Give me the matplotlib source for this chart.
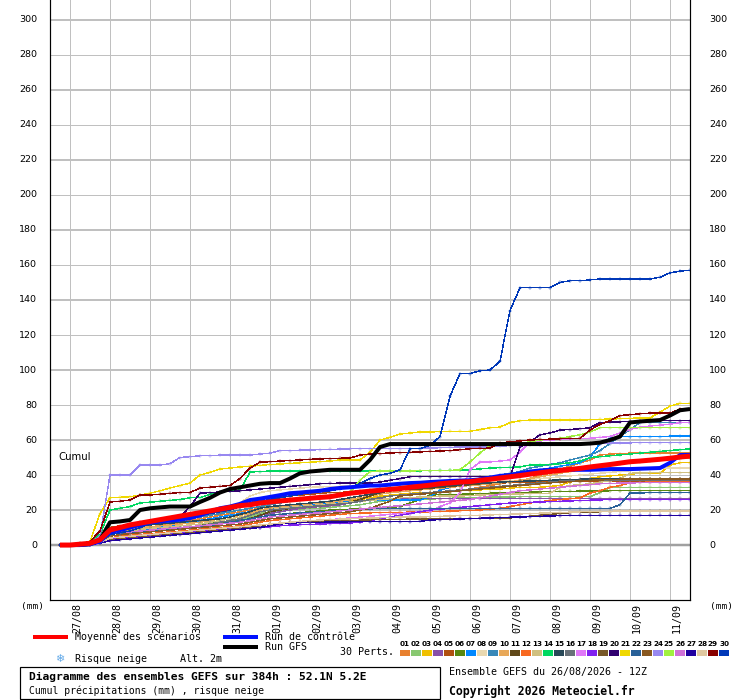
import numpy as np
import matplotlib.pyplot as plt
from matplotlib.lines import Line2D
from matplotlib.patches import Rectangle
import matplotlib.transforms as mtransforms

# ====================================
# Data (cumulative precipitation, mm, every 6h from +6h to +384h)
# ====================================
hours = np.arange(6, 385, 6)
date_labels = ['27/08', '28/08', '29/08', '30/08', '31/08', '01/09', '02/09', '03/09',
               '04/09', '05/09', '06/09', '07/09', '08/09', '09/09', '10/09', '11/09']
date_hours = np.arange(12, 385, 24)
y_ticks = np.arange(0, 301, 20)

mean = [0,0,0.5,1, 3,8.6,10,11.5, 12.5,13.5,14.5,15.5, 16.5,17.5,18.5,19.5,
        20.5,21.5,22.5,23, 24,24.6,25.2,25.7, 26.2,26.7,27.2,27.6, 28.6,29.6,30.2,30.8,
        31.3,31.8,32.3,33, 33.6,34.2,35,35.5, 36,36.2,37,37.6, 38.3,39,39.7,40.5,
        41.3,42,42.6,43.2, 43.8,44.6,45.3,46, 46.8,47.6,48,48.5, 49,49.6,50.3,50.8]
ctrl = [0,0,0,0.5, 2,7.4,8.5,10, 11.5,13,13.5,14, 14.5,15.4,17,19,
        21,22,23.5,25.7, 26.5,27.5,28.5,29.6, 30,30.5,31,32, 32.6,33,33.5,34,
        34,34.5,35,35.4, 35.6,36,36.3,36.6, 36.8,37,37.5,38.5, 39.5,40,41,42,
        42.6,43,43,43, 43,43,43.2,43.4, 43.4,43.4,43.6,43.8, 44,47,51.4,51.5]
gfs = [0,0,0,0.5, 3,13,13.5,14.3, 20,21,21.5,22, 22,22,24.6,27,
       30,32,33,34, 35,35.4,35.4,38, 41,42,42.5,43, 43,43,43,48.6,
       56,57.7,57.7,57.7, 57.7,57.7,57.7,57.7, 57.7,57.7,57.7,57.7, 57.7,57.7,57.7,57.7,
       57.7,57.7,57.7,57.7, 57.7,58,58.5,60, 62,70,70.6,71, 71.4,74,77,77.7]

p01 = [0,0,0.3,1, 2,6,7,8, 9,10,11,12, 13,14,15,16, 17,18,19,20, 21,22,22.5,23,
       23.5,24,24.5,25, 25.5,26,26.5,27, 27.5,28,28.5,29, 29.5,30,30.5,31, 31.5,32,33,34,
       35,36,37,38, 40,41,43.4,45, 47,48.6,51.4,52, 52.3,52.5,52.6,52.6, 52.6,52.6,52.6,52.6]
p02 = [0,0,0.5,1.5, 3,7,8,8.5, 9,9.5,10,10.5, 11,11.5,12,12.5, 13,13.5,14,16, 18,19,19.5,20,
       20.5,21,21,21.5, 22,22.5,23,24, 25,25.5,26,26, 26,26.3,26.5,26.7, 27,27,27.2,27.4,
       27.5,27.5,27.6,27.6, 27.6,27.6,27.6,27.6, 27.6,27.6,30,33, 33,33,33,33, 33,33,33,33]
p03 = [0,0,0.5,1, 3,9,10,11, 12,12.5,13,13.5, 14,15,16,17, 18,19,20,21, 22,22,22.5,23,
       23,23.5,23.5,24, 24,25,26,27, 28,28.5,29,29.5, 30,30,30.5,30.5, 31,31,31.5,32,
       32,32.5,33,33, 33,33.5,34,36, 37,38,39,39.5, 40,40.5,41,41, 41,45.7,47,47]
p04 = [0,0,0.5,1, 2,5,6,6.5, 7,7.5,8,8.5, 9,9.5,10,11, 12,13,14,15, 17,18,19,20,
       21,21.5,22,22.5, 23,24,25,26, 26.2,26.4,26.5,26.5, 26.5,26.5,26.5,26.5, 26.5,26.5,26.5,26.6,
       26.6,26.6,26.6,26.6, 26.6,26.6,26.6,26.7, 26.7,26.7,26.7,26.7, 26.7,26.7,26.7,26.7, 26.7,26.7,26.7,26.7]
p05 = [0,0,0.5,1.5, 3,10,11,12, 13,13.5,14,14.5, 15,15.5,16,17, 18,20,22,24, 26,27,27.5,28,
       28.5,29,29.5,30, 30,30.5,31,31.5, 32,32.5,33,33.5, 34,34,34.5,34.5, 35,35,35.2,35.4,
       35.5,35.6,35.7,35.8, 36,36,36,36.2, 36.2,36.3,36.4,36.5, 36.5,36.5,36.5,36.5, 36.5,36.5,36.5,36.5]
p06 = [0,0,1,2, 4,7,8,8.5, 9,9.5,10,10.5, 11,11.5,12,12.5, 13,13.5,14,15, 16,17,17.5,18,
       18.5,19,19.5,20, 20,20.5,21,21, 21,21.5,22,24, 26,28.6,28.8,29, 29,29.2,29.4,29.6,
       29.8,30,30,30.2, 30.4,30.5,30.6,30.7, 30.8,30.8,30.9,31, 31,31,31,31, 31,31,31,31]
p07 = [0,0,0,0.5, 2,5,6,7, 8,9,10,11, 12,13,14,15, 16,17,18,19, 20,21,21.5,22,
       22.5,23,23.5,24, 24.5,25,25,25.5, 25.5,25.7,25.7,25.7, 25.7,27.7,31.4,33, 35.4,36,37,38,
       39,40,41,42, 43,44,45,46, 47,50,58,61, 62,62,62,62, 62,62.2,62.3,62.3]
p08 = [0,0,0.5,1, 3,8,9,10, 11,12,13,14, 15,16,17,18, 19,21,24,28, 30,31,31.5,32,
       32.5,33,33.2,33.4, 33.6,33.8,34,34.2, 34.4,34.6,34.8,35, 35.2,35.4,35.6,35.8, 36,36,36.2,36.4,
       36.6,36.8,37,37.5, 38,38.5,39,39.5, 40,40.5,41,41.5, 42,42.5,43,43.5, 44,44,44,44]
p09 = [0,0,0.5,1, 3,8,9,10, 11,12,12.5,13, 14,15,16,17, 18,19,20,21, 22,23,24,25,
       26,26.5,27,27.5, 28,29,30,31, 32,32.5,33,33.5, 34,34.5,35,35.5, 36,37,38,39,
       40,41,42,44, 45,46,47,48.6, 50,51.4,54,58, 62,66,70,70, 70,70,70,70]
p10 = [0,0,0.5,1, 2,7,8,9, 10,10.5,11,11.5, 12,12.5,13,14, 15,16,17,18, 20,21,22,22.5,
       23,23.5,24,24.5, 25,26,27,28, 29,30,30.5,31, 31.5,32,32.5,33, 33.5,34,34.5,35,
       35.5,36,37,38, 39,40,41,42, 43,44,45,46, 46.5,47,47.5,48, 48.5,49,49.3,49.5]
p11 = [0,0,0.3,1, 2,5,6,7, 7.5,8,8.5,9, 9.5,10,10.5,11, 12,13,14,15, 17,19,20,21,
       21.5,22,22.5,23, 23.5,24.5,26,28, 30,31,31.5,32, 32,32.5,33,33.5, 34,34.5,35,35.5,
       36,36.2,36.4,36.6, 36.8,37,37,37.2, 37.2,37.3,37.4,37.5, 37.5,37.5,37.5,37.5, 37.5,37.5,37.5,37.5]
p12 = [0,0,0,0.5, 1.5,4,5,5.5, 6,6.5,7,7.5, 8,8.5,9,9.5, 10,10.5,11,12, 13,14,14.5,15,
       15.5,16,16.5,17, 17.5,18,18.2,18.4, 18.5,18.6,18.7,18.8, 18.9,19,19.2,19.4, 19.6,19.8,20,20.5,
       21,22,23,24, 24.7,25.5,26,26.5, 27,29.7,31,33, 34,35.6,35.8,36, 36,36,36,36]
p13 = [0,0,0.5,1, 2,6,7,8, 9,9.5,10,10.5, 11,11.5,12,13, 14,15,16,17, 19,20,21,21.5,
       22,22.5,23,23.5, 24,24.5,25,25.5, 26,26.5,27,27, 27.5,27.5,28,28, 28,28.3,28.6,28.8,
       29,29,29.2,29.4, 29.5,29.6,33,34, 34.5,35,36,36.5, 38,41,41.2,41.3, 41.3,41.3,41.3,41.3]
p14 = [0,0,0.5,2, 6,20,21,22, 24,24.5,25,25.5, 26,27,27,29, 30.5,31,31.4,41.7, 42,42.3,42.3,42.3,
       42.3,42.3,42.3,42.3, 42.3,42.3,42.3,42.3, 42.3,42.3,42.3,42.3, 42.4,42.5,42.6,42.7, 42.8,43,43.5,44,
       44.2,44.4,44.7,45.7, 45.7,46,46.5,47, 48,50,50.5,51, 51.5,52,52.5,53, 53.5,54,54.5,55]
p15 = [0,0,0.5,1, 3,9,10,10.5, 11,11.5,12,12.5, 13,13.5,14,14.5, 15,16,17.5,19, 21,22,22.5,23,
       23.5,24,24.5,25, 26,27,28,29, 30,31,31.5,32, 32.5,33,33.5,34, 34.5,35,35.3,35.6,
       36,36.2,36.4,36.6, 36.8,37,37.2,37.4, 37.6,37.8,38,38, 38,38,38,38, 38,38,38,38]
p16 = [0,0,0.5,1, 2,6,7,7.5, 8,8.5,9,9.5, 10,10.5,11,12, 13,14,15,17, 19,20,20.5,21,
       21.5,22,22.5,23, 23.5,24,25,26, 27,28,28.5,29, 29.5,30,30.5,31, 31.5,32,32.5,33,
       33.5,34,34.5,35, 35.5,36,36.5,37, 37,37,37,37, 37,37,37,37, 37,37,37,37]
p17 = [0,0,0,0, 1,3,4,5, 5.5,6,6.3,6.6, 7,7.3,7.6,8, 8.5,9,9.5,10, 10.2,10.3,12.6,13,
       13.3,13.6,14,14.5, 15,15.5,16,16.5, 17,17.5,18,18.5, 19,19,22,24, 30,43,47.4,47.5,
       48,48.6,53,59, 59.5,60,60.3,60.6, 61,61,61.5,62, 64,66,67.4,68, 68.5,69,70,70]
p18 = [0,0,0,0.3, 1,3,4,4.5, 5,5.5,6,6.5, 7,7.5,8,8.5, 9,9.3,9.5,9.7, 10,10.5,11,11.4,
       11.6,11.8,12,12.2, 12.4,12.6,13,14, 15,16,17,18, 19,20,20.5,21, 21.5,22,22.5,23,
       23.5,24,24.2,24.4, 24.6,24.8,25,25.2, 25.4,25.6,25.8,26, 26,26,26,26, 26,26,26,26]
p19 = [0,0,0,0.5, 1,3,3.5,4, 4.5,5,5.5,6, 6.5,7,7.5,8, 8.5,9,9.5,10, 11,12,12.5,13,
       13.2,13.4,13.6,13.8, 14,14,14.2,14.4, 14.5,14.6,14.7,14.8, 14.9,15,15,15.1, 15.2,15.2,15.3,15.4,
       15.4,15.5,16,16.5, 17,17.5,18,18.5, 18.7,18.9,19,19.1, 19.2,19.3,19.4,19.5, 19.5,19.5,19.5,19.5]
p20 = [0,0,0.5,1, 3,8,9,10, 11,12,13,14, 16,22,29.6,30, 30.3,30.6,31,31.5, 32,32.5,33,33.5,
       34,34.5,35,35.2, 35.4,35.4,35.4,35.4, 36,37,38,39, 39,39,39,39, 39,39,39,39,
       39,39,56,59, 63,64,65.7,66, 66.5,67,70,70.2, 70.4,70.6,70.8,71, 71,71,71,71]
p21 = [0,0,0.5,2, 18,27,27.3,27.6, 28.5,29.6,31,32.6, 34,35.4,40,41.5, 43.4,44,44.6,45, 45.5,46,46.3,46.6,
       47,47.3,47.7,48, 48.6,48.6,48.6,53, 60,61.5,63.4,64, 64.6,64.6,64.8,65, 65,65,66,67,
       67.4,70,71,71.4, 71.4,71.4,71.4,71.4, 71.4,71.6,71.8,72, 72.2,72.4,72.6,72.6, 76,79.4,81,81]
p22 = [0,0,0.5,1, 2,5,6,7, 7.5,8,8.5,9, 9.5,10,10.5,11, 12,13,14,15, 16,17,17.5,18,
       18.3,18.6,19,19.3, 19.6,20,20.3,20.6, 21,21,21,21, 21,21,21,21, 21,21,21,21,
       21,21,21,21, 21,21,21,21, 21,21,21,21, 23,29.7,29.8,29.9, 30,30,30,30]
p23 = [0,0,0.5,1, 2,5,6,6.5, 7,7.5,8,8.5, 9,9.5,10,10.5, 11,11.5,12,13, 14,15,15.5,16,
       16.5,17,17.5,18, 18.5,19,20,21, 23,25,28,28.6, 29,29.5,30,30.5, 31,31.5,32,32.5,
       33,33.5,34,34.5, 35,35.5,36,36.3, 36.6,37,37.2,37.4, 37.6,37.8,37.8,37.8, 37.8,37.8,37.8,37.8]
p24 = [0,0,0,1, 5,40,40,40, 45.7,45.7,45.7,46.5, 50,50.5,51,51, 51.4,51.4,51.4,51.4, 52,52.5,54,54,
       54.2,54.3,54.5,54.6, 54.8,55,55,55, 55,55,55,55, 55.2,55.4,55.6,55.8, 56,56,56,56,
       56.5,56.8,57,57.2, 57.4,57.6,57.8,58, 58,58,58,58.2, 58.3,58.4,58.5,58.5, 58.5,58.5,58.5,58.5]
p25 = [0,0,0,1, 3,8,9,10, 11,12,13,14, 15,16,17,18, 19,20,22,23, 24,25,25.5,26,
       26.5,27,27.5,28, 29,30,37,42, 42.3,42.3,42.3,42.3, 42.5,42.5,42.5,42.6, 43,47.4,52.6,57,
       57.2,57.5,58,59, 60,60.5,61,62, 63,64.6,67,67, 67,67,67,67, 67,67,67,67]
p26 = [0,0,0.5,1, 2,6,7,7.5, 8,8.5,9,9.5, 10,10.5,11,11.5, 12,12.5,13,14, 15,16,16.5,17,
       17.5,18,18.5,19, 19.5,20,20.5,21, 21.5,22,22.5,23, 23.5,24,24.5,25, 25.5,26,27,28,
       29,30,31,31.5, 32,32.5,33,33.5, 34,34.5,35,35.2, 35.4,35.5,35.6,35.6, 35.6,35.6,35.6,35.6]
p27 = [0,0,0,0.3, 1,2.5,3,3.5, 4,4.5,5,5.5, 6,6.5,7,7.5, 8,8.5,9,9.5, 10,11,12,12.5,
       12.8,13,13,13.1, 13.2,13.3,13.3,13.3, 13.3,13.3,13.3,13.3, 13.5,14.3,14.5,14.7, 14.9,15.1,15.3,15.5,
       15.7,15.9,16,16.2, 16.4,16.6,16.8,16.9, 17,17,17,17, 17,17,17,17, 17,17,17,17]
p28 = [0,0,0.3,0.8, 1.5,4,4.5,5, 5.5,6,6.5,7, 7.5,8,8.5,9, 9.5,10,10.5,11, 11.5,12,12.5,13,
       13.5,14,14.3,14.6, 14.8,15,15.2,15.4, 15.6,15.8,16,16, 16,16.2,16.4,16.6, 16.8,17,17,17.2,
       17.4,17.6,17.8,18, 18.2,18.4,18.6,18.8, 19,19,19.2,19.3, 19.4,19.5,19.5,19.5, 19.5,19.5,19.5,19.5]
p29 = [0,0,0.5,2, 8,24.6,25,25.7, 28.6,28.6,29,29.5, 30,30,32.6,33, 33.5,34,38,44, 47.4,47.6,48,48.3,
       48.6,49,49.2,49.4, 49.6,49.7,51.4,52, 52.3,52.6,52.8,53, 53.2,53.5,53.7,54, 54.5,55,55.2,55.4,
       58.3,59,59.5,60, 60.3,60.5,60.7,61, 61,65.7,69,71, 74,74.5,75,75.4, 75.4,75.4,77.7,77.7]
p30 = [0,0,0,0.5, 2,6,7,8, 10,12,13,14, 15,16,17,18, 19,20,22,24, 25,26,27,28,
       29,30,30.5,31, 32,33,35,38, 40,41,43,55, 55,57,62,85, 98,98,99.5,100,
       105,134,147,147, 147,147,150,151, 151,151.5,152,152, 152,152,152,152, 153,155.5,156.5,157]

members = [p01, p02, p03, p04, p05, p06, p07, p08, p09, p10,
           p11, p12, p13, p14, p15, p16, p17, p18, p19, p20,
           p21, p22, p23, p24, p25, p26, p27, p28, p29, p30]
member_colors = ['#E8802F', '#88C870', '#F0C000', '#8850A8', '#B05010', '#588810',
                 '#0088FF', '#E8D8B0', '#3888B8', '#E8A858', '#604818', '#F86820',
                 '#D0C080', '#00D860', '#284858', '#687078', '#E078F8', '#8020F0',
                 '#785828', '#300070', '#F0D800', '#286098', '#885820', '#9888F0',
                 '#A0F040', '#D070D8', '#2000A0', '#E0C8A0', '#880000', '#0038B8']

# ====================================
# Figure / axes (pixel layout 740x700)
# ====================================
W, H = 740, 700
fig = plt.figure(figsize=(W/100, H/100), dpi=100)
fig.patch.set_facecolor('white')
ax = fig.add_axes([50/W, 100/H, 640/W, 600/H])
ax.set_xlim(0, 384)
ax.set_ylim(-31.4, 311.4)

px = 0.72  # one pixel in points

# grid
for h in date_hours:
    ax.axvline(h, color='#c0c0c0', lw=px, zorder=0)
for v in y_ticks[1:]:
    thick = (v // 20) % 2 == 1
    ax.axhline(v, color='#c0c0c0', lw=2*px if thick else px, zorder=0)
ax.axhline(0, color='#a0a0a0', lw=2.5*px, zorder=0)

ax.spines['top'].set_visible(False)
for s in ['left', 'right', 'bottom']:
    ax.spines[s].set_color('black')
    ax.spines[s].set_linewidth(1.2*px)
ax.set_xticks([])
ax.set_yticks([])

# ====================================
# Plot lines
# ====================================
for vals, col in zip(members, member_colors):
    ax.plot(hours, vals, color=col, lw=0.4*px, marker='+', ms=3.5, mew=0.4*px,
            antialiased=False, zorder=2)

ax.plot(hours, gfs, color='black', lw=4*px, zorder=3, solid_capstyle='butt')
ax.plot(hours, ctrl, color='#0010ff', lw=4*px, zorder=4, solid_capstyle='butt')
ax.plot(hours, mean, color='#ff0000', lw=5*px, zorder=5, solid_capstyle='butt')

# ====================================
# Axis labels
# ====================================
ytrans = mtransforms.blended_transform_factory(ax.transAxes, ax.transData)
xtrans = mtransforms.blended_transform_factory(ax.transData, ax.transAxes)
for v in y_ticks:
    ax.text(-13/640, v, str(v), transform=ytrans, ha='right', va='center',
            fontsize=6.8, family='DejaVu Sans', clip_on=False)
    ax.text(1 + 19/640, v, str(v), transform=ytrans, ha='left', va='center',
            fontsize=6.8, family='DejaVu Sans', clip_on=False)
for h, lab in zip(date_hours, date_labels):
    ax.text(h + 4.2, -3/600, lab, transform=xtrans, rotation=90, ha='center', va='top',
            fontsize=7.2, family='DejaVu Sans Mono', clip_on=False)

ax.text(8/640, (545-457)/1.75, 'Cumul', transform=ytrans, ha='left', va='center',
        fontsize=7.3, family='DejaVu Sans')

# ====================================
# Bottom legend (figure pixel coords)
# ====================================
def fx(x):
    return x / W

def fy(y):
    return 1 - y / H

mono = 'DejaVu Sans Mono'
fig.text(fx(21), fy(606), '(mm)', fontsize=6.8, family=mono, va='center')
fig.text(fx(710), fy(606), '(mm)', fontsize=6.8, family=mono, va='center')

fig.add_artist(Line2D([fx(35), fx(66)], [fy(637), fy(637)], color='#ff0000', lw=4*px))
fig.text(fx(75), fy(637), 'Moyenne des scénarios', fontsize=7.2, family=mono, va='center')
fig.add_artist(Line2D([fx(225), fx(256)], [fy(637), fy(637)], color='#0010ff', lw=4*px))
fig.text(fx(265), fy(637), 'Run de contrôle', fontsize=7.2, family=mono, va='center')
fig.add_artist(Line2D([fx(225), fx(256)], [fy(647), fy(647)], color='black', lw=4*px))
fig.text(fx(265), fy(647), 'Run GFS', fontsize=7.2, family=mono, va='center')
fig.text(fx(340), fy(652), '30 Perts.', fontsize=7.2, family=mono, va='center')

fig.text(fx(60), fy(659), '\u2744', fontsize=8, family='DejaVu Sans', color='#60a8e8',
         ha='center', va='center')
fig.text(fx(75), fy(659), 'Risque neige', fontsize=7.2, family=mono, va='center')
fig.text(fx(180), fy(659), 'Alt. 2m', fontsize=7.2, family=mono, va='center')

for i, col in enumerate(member_colors):
    x0 = 400 + 11*i
    fig.add_artist(Rectangle((fx(x0), fy(656)), 10/W, 6/H, transform=fig.transFigure,
                             facecolor=col, edgecolor='none'))
    fig.text(fx(x0 + 5), fy(644), '%02d' % (i + 1), fontsize=5.2, family='DejaVu Sans',
             weight='bold', ha='center', va='center')

fig.add_artist(Rectangle((fx(20), fy(699)), 420/W, 32/H, transform=fig.transFigure,
                         facecolor='none', edgecolor='black', lw=1.2*px))
fig.text(fx(29), fy(677), 'Diagramme des ensembles GEFS sur 384h : 52.1N 5.2E',
         fontsize=8.1, family=mono, weight='bold', va='center')
fig.text(fx(29), fy(691), 'Cumul précipitations (mm) , risque neige',
         fontsize=7, family=mono, va='center')
fig.text(fx(449), fy(672), 'Ensemble GEFS du 26/08/2026 - 12Z',
         fontsize=7.2, family=mono, va='center')
fig.text(fx(449), fy(691), 'Copyright 2026 Meteociel.fr',
         fontsize=8.3, family=mono, weight='bold', va='center')

fig.savefig('out.png', dpi=100, facecolor='white')
